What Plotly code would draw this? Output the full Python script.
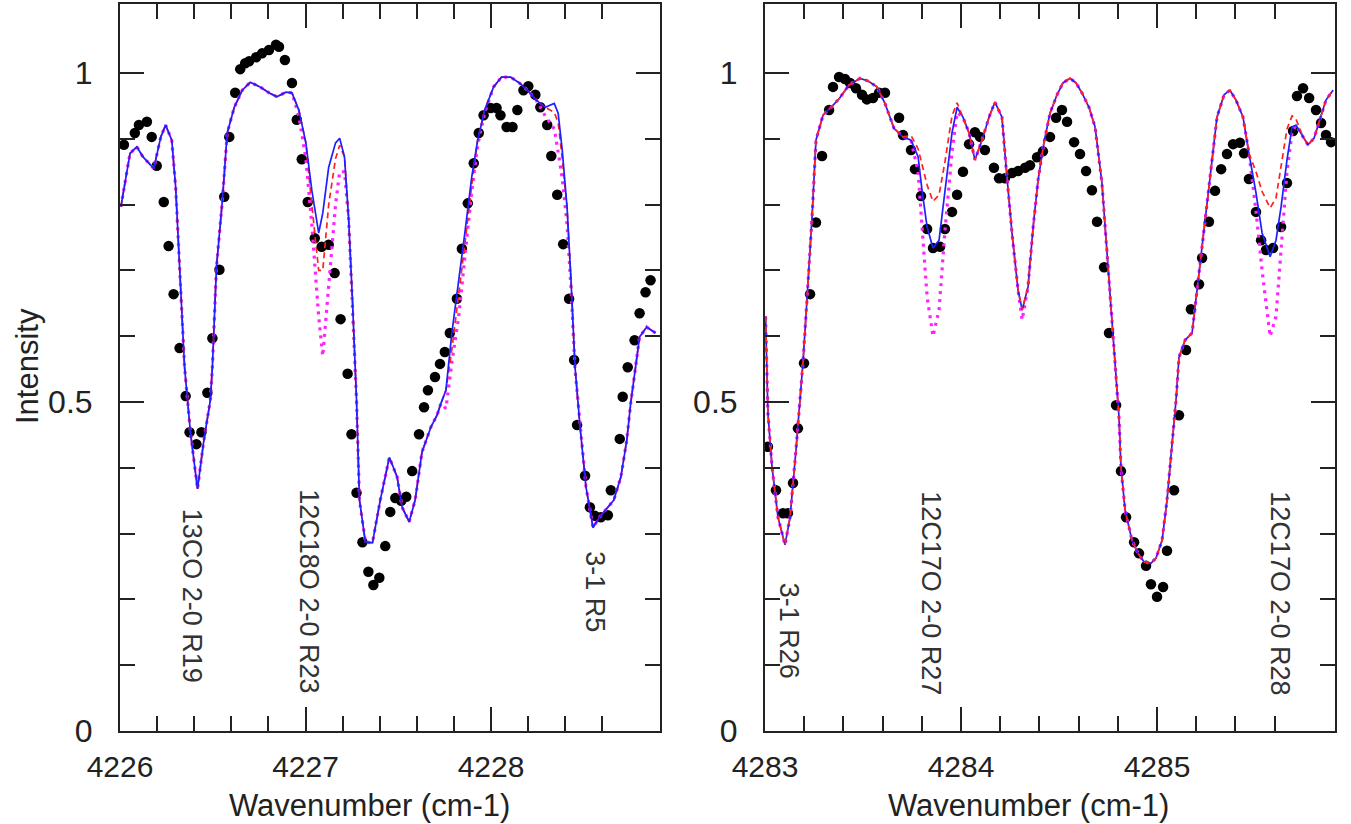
import plotly.graph_objects as go

# ---------------- Left panel data ----------------
L_dot_x = [4226.021, 4226.080, 4226.102, 4226.145, 4226.171, 4226.198, 4226.236, 4226.262, 4226.289,
           4226.321, 4226.354, 4226.375, 4226.412, 4226.439, 4226.471, 4226.498, 4226.536, 4226.562,
           4226.589, 4226.621, 4226.648, 4226.675, 4226.696, 4226.734, 4226.766, 4226.803, 4226.841,
           4226.857, 4226.889, 4226.927, 4226.953, 4226.980, 4227.012, 4227.050, 4227.087, 4227.125,
           4227.157, 4227.189, 4227.227, 4227.248, 4227.275, 4227.307, 4227.339, 4227.366, 4227.398,
           4227.430, 4227.457, 4227.484, 4227.516, 4227.543, 4227.575, 4227.612, 4227.639, 4227.660,
           4227.698, 4227.725, 4227.751, 4227.778, 4227.816, 4227.843, 4227.875, 4227.907, 4227.934,
           4227.960, 4227.998, 4228.030, 4228.051, 4228.084, 4228.116, 4228.142, 4228.175, 4228.201,
           4228.239, 4228.266, 4228.303, 4228.325, 4228.357, 4228.389, 4228.421, 4228.448, 4228.464,
           4228.507, 4228.533, 4228.560, 4228.592, 4228.630, 4228.646, 4228.694, 4228.710, 4228.737,
           4228.774, 4228.801, 4228.833, 4228.860]
L_dot_y = [0.891, 0.909, 0.921, 0.926, 0.903, 0.859, 0.804, 0.737, 0.664,
           0.582, 0.509, 0.454, 0.436, 0.454, 0.514, 0.597, 0.701, 0.812,
           0.903, 0.970, 1.006, 1.015, 1.018, 1.024, 1.030, 1.035, 1.043,
           1.040, 1.020, 0.985, 0.929, 0.869, 0.804, 0.749, 0.736, 0.739,
           0.696, 0.626, 0.543, 0.451, 0.362, 0.287, 0.242, 0.222, 0.233,
           0.281, 0.333, 0.354, 0.350, 0.356, 0.395, 0.451, 0.492, 0.518,
           0.538, 0.558, 0.576, 0.605, 0.657, 0.733, 0.802, 0.863, 0.909,
           0.936, 0.947, 0.947, 0.936, 0.918, 0.918, 0.944, 0.974, 0.980,
           0.967, 0.948, 0.921, 0.874, 0.815, 0.740, 0.657, 0.564, 0.465,
           0.388, 0.340, 0.327, 0.325, 0.328, 0.366, 0.444, 0.508, 0.553,
           0.594, 0.635, 0.667, 0.685]

L_model_x = [4226.005, 4226.054, 4226.091, 4226.123, 4226.182, 4226.220, 4226.246, 4226.279, 4226.300,
             4226.321, 4226.348, 4226.380, 4226.418, 4226.450, 4226.487, 4226.498, 4226.520, 4226.552,
             4226.578, 4226.616, 4226.659, 4226.702, 4226.755, 4226.803, 4226.846, 4226.894, 4226.927,
             4226.964, 4227.002, 4227.034, 4227.071, 4227.093, 4227.125, 4227.162, 4227.184, 4227.210,
             4227.232, 4227.253, 4227.275, 4227.291, 4227.323, 4227.361, 4227.403, 4227.452, 4227.494,
             4227.521, 4227.559, 4227.591, 4227.628, 4227.676, 4227.709, 4227.730, 4227.757, 4227.789,
             4227.826, 4227.859, 4227.896, 4227.928, 4227.966, 4228.014, 4228.057, 4228.105, 4228.153,
             4228.196, 4228.244, 4228.292, 4228.341, 4228.362, 4228.384, 4228.410, 4228.432, 4228.453,
             4228.480, 4228.512, 4228.550, 4228.582, 4228.630, 4228.662, 4228.700, 4228.732, 4228.753,
             4228.780, 4228.801, 4228.839, 4228.887]
L_blue = [0.797, 0.878, 0.888, 0.873, 0.855, 0.903, 0.921, 0.898, 0.827,
          0.705, 0.553, 0.453, 0.368, 0.438, 0.503, 0.553, 0.705, 0.807,
          0.909, 0.948, 0.974, 0.986, 0.979, 0.970, 0.964, 0.971, 0.970,
          0.944, 0.894, 0.822, 0.757, 0.787, 0.857, 0.894, 0.901, 0.873,
          0.781, 0.655, 0.503, 0.351, 0.287, 0.286, 0.351, 0.416, 0.386,
          0.340, 0.318, 0.351, 0.424, 0.462, 0.480, 0.498, 0.518, 0.605,
          0.681, 0.757, 0.842, 0.898, 0.944, 0.979, 0.994, 0.994, 0.985,
          0.974, 0.959, 0.948, 0.954, 0.939, 0.883, 0.796, 0.681, 0.553,
          0.462, 0.371, 0.309, 0.324, 0.340, 0.351, 0.386, 0.442, 0.498,
          0.559, 0.599, 0.614, 0.605]
L_red = [0.797, 0.878, 0.888, 0.873, 0.855, 0.903, 0.921, 0.898, 0.827,
         0.705, 0.553, 0.453, 0.368, 0.438, 0.503, 0.553, 0.705, 0.807,
         0.909, 0.948, 0.974, 0.986, 0.979, 0.970, 0.964, 0.971, 0.970,
         0.944, 0.894, 0.800, 0.700, 0.700, 0.800, 0.870, 0.890, 0.873,
         0.781, 0.655, 0.503, 0.351, 0.287, 0.286, 0.351, 0.416, 0.386,
         0.340, 0.318, 0.351, 0.424, 0.462, 0.480, 0.498, 0.518, 0.580,
         0.660, 0.740, 0.830, 0.898, 0.944, 0.979, 0.994, 0.994, 0.985,
         0.974, 0.959, 0.948, 0.940, 0.925, 0.870, 0.796, 0.681, 0.553,
         0.462, 0.371, 0.309, 0.324, 0.340, 0.351, 0.386, 0.442, 0.498,
         0.559, 0.599, 0.614, 0.605]
L_mag = [0.797, 0.878, 0.888, 0.873, 0.855, 0.903, 0.921, 0.898, 0.827,
         0.705, 0.553, 0.453, 0.368, 0.438, 0.503, 0.553, 0.705, 0.807,
         0.909, 0.948, 0.974, 0.986, 0.979, 0.970, 0.964, 0.971, 0.970,
         0.935, 0.870, 0.770, 0.630, 0.570, 0.680, 0.800, 0.850, 0.850,
         0.781, 0.655, 0.503, 0.351, 0.287, 0.286, 0.351, 0.416, 0.386,
         0.340, 0.318, 0.351, 0.424, 0.462, 0.480, 0.498, 0.490, 0.560,
         0.630, 0.720, 0.820, 0.890, 0.940, 0.979, 0.994, 0.994, 0.985,
         0.974, 0.959, 0.935, 0.915, 0.880, 0.840, 0.770, 0.670, 0.550,
         0.462, 0.371, 0.309, 0.324, 0.340, 0.351, 0.386, 0.442, 0.498,
         0.559, 0.599, 0.614, 0.605]

L_labels = ["13CO 2-0 R19", "12C18O 2-0 R23", "3-1 R5"]
L_label_x = [4226.39, 4227.02, 4228.56]
L_label_y = [0.205, 0.212, 0.211]

# ---------------- Right panel data ----------------
R_dot_x = [4283.015, 4283.056, 4283.092, 4283.117, 4283.143, 4283.168, 4283.199, 4283.230, 4283.260,
           4283.291, 4283.327, 4283.347, 4283.378, 4283.408, 4283.434, 4283.464, 4283.495, 4283.520,
           4283.551, 4283.582, 4283.612, 4283.684, 4283.704, 4283.745, 4283.765, 4283.796, 4283.827,
           4283.857, 4283.893, 4283.918, 4283.954, 4283.980, 4284.010, 4284.041, 4284.071, 4284.097,
           4284.122, 4284.168, 4284.194, 4284.224, 4284.260, 4284.291, 4284.327, 4284.352, 4284.388,
           4284.418, 4284.454, 4284.485, 4284.515, 4284.541, 4284.577, 4284.607, 4284.638, 4284.668,
           4284.694, 4284.730, 4284.755, 4284.791, 4284.816, 4284.842, 4284.883, 4284.908, 4284.944,
           4284.969, 4285.000, 4285.031, 4285.051, 4285.087, 4285.112, 4285.148, 4285.173, 4285.214,
           4285.230, 4285.265, 4285.296, 4285.327, 4285.357, 4285.388, 4285.423, 4285.444, 4285.469,
           4285.505, 4285.531, 4285.556, 4285.592, 4285.633, 4285.663, 4285.694, 4285.714, 4285.745,
           4285.776, 4285.811, 4285.837, 4285.862, 4285.888]
R_dot_y = [0.432, 0.366, 0.331, 0.331, 0.377, 0.460, 0.559, 0.664, 0.773,
           0.874, 0.944, 0.979, 0.994, 0.991, 0.985, 0.977, 0.967, 0.960,
           0.962, 0.970, 0.970, 0.932, 0.906, 0.883, 0.854, 0.813, 0.763,
           0.734, 0.736, 0.763, 0.789, 0.815, 0.850, 0.892, 0.910, 0.903,
           0.883, 0.856, 0.840, 0.840, 0.848, 0.851, 0.856, 0.860, 0.872,
           0.881, 0.903, 0.932, 0.944, 0.926, 0.895, 0.877, 0.851, 0.822,
           0.774, 0.705, 0.605, 0.495, 0.395, 0.325, 0.287, 0.270, 0.251,
           0.223, 0.204, 0.219, 0.274, 0.366, 0.480, 0.579, 0.641, 0.679,
           0.719, 0.774, 0.821, 0.854, 0.877, 0.892, 0.894, 0.878, 0.839,
           0.789, 0.746, 0.731, 0.734, 0.766, 0.833, 0.912, 0.965, 0.977,
           0.962, 0.944, 0.924, 0.906, 0.895]

R_model_x = [4283.003, 4283.015, 4283.036, 4283.066, 4283.102, 4283.128, 4283.158, 4283.179, 4283.194,
             4283.214, 4283.240, 4283.260, 4283.296, 4283.337, 4283.378, 4283.429, 4283.485, 4283.526,
             4283.571, 4283.612, 4283.658, 4283.704, 4283.745, 4283.781, 4283.801, 4283.827, 4283.857,
             4283.888, 4283.918, 4283.954, 4283.980, 4284.010, 4284.041, 4284.071, 4284.107, 4284.143,
             4284.173, 4284.209, 4284.230, 4284.260, 4284.291, 4284.312, 4284.342, 4284.368, 4284.393,
             4284.423, 4284.454, 4284.490, 4284.520, 4284.556, 4284.587, 4284.617, 4284.653, 4284.684,
             4284.719, 4284.750, 4284.775, 4284.806, 4284.816, 4284.837, 4284.872, 4284.903, 4284.934,
             4284.969, 4284.995, 4285.026, 4285.051, 4285.077, 4285.097, 4285.112, 4285.143, 4285.179,
             4285.209, 4285.240, 4285.276, 4285.306, 4285.342, 4285.372, 4285.403, 4285.439, 4285.469,
             4285.505, 4285.536, 4285.577, 4285.607, 4285.633, 4285.663, 4285.689, 4285.709, 4285.745,
             4285.770, 4285.801, 4285.832, 4285.862, 4285.898]
R_blue = [0.630, 0.483, 0.401, 0.325, 0.283, 0.325, 0.427, 0.503, 0.561,
          0.655, 0.781, 0.898, 0.936, 0.948, 0.961, 0.982, 0.992, 0.988,
          0.979, 0.954, 0.916, 0.903, 0.898, 0.873, 0.822, 0.766, 0.734,
          0.746, 0.822, 0.909, 0.948, 0.933, 0.909, 0.868, 0.898, 0.933,
          0.956, 0.933, 0.857, 0.757, 0.670, 0.640, 0.675, 0.766, 0.837,
          0.894, 0.939, 0.967, 0.985, 0.992, 0.985, 0.970, 0.948, 0.918,
          0.833, 0.705, 0.605, 0.477, 0.401, 0.336, 0.290, 0.270, 0.257,
          0.255, 0.263, 0.290, 0.351, 0.438, 0.503, 0.568, 0.594, 0.605,
          0.681, 0.757, 0.848, 0.933, 0.967, 0.974, 0.959, 0.933, 0.878,
          0.818, 0.757, 0.721, 0.746, 0.797, 0.868, 0.918, 0.921, 0.903,
          0.891, 0.901, 0.929, 0.959, 0.974]
R_red = [0.630, 0.483, 0.401, 0.325, 0.283, 0.325, 0.427, 0.503, 0.561,
         0.655, 0.781, 0.898, 0.936, 0.948, 0.961, 0.982, 0.992, 0.988,
         0.979, 0.954, 0.916, 0.903, 0.905, 0.885, 0.860, 0.830, 0.805,
         0.815, 0.865, 0.935, 0.955, 0.933, 0.909, 0.868, 0.898, 0.933,
         0.956, 0.933, 0.857, 0.757, 0.670, 0.640, 0.675, 0.766, 0.837,
         0.894, 0.939, 0.967, 0.985, 0.992, 0.985, 0.970, 0.948, 0.918,
         0.833, 0.705, 0.605, 0.477, 0.401, 0.336, 0.290, 0.270, 0.257,
         0.255, 0.263, 0.290, 0.351, 0.438, 0.503, 0.568, 0.594, 0.605,
         0.681, 0.757, 0.848, 0.933, 0.967, 0.974, 0.959, 0.933, 0.878,
         0.850, 0.820, 0.795, 0.810, 0.860, 0.915, 0.935, 0.930, 0.903,
         0.891, 0.901, 0.929, 0.959, 0.974]
R_mag = [0.630, 0.483, 0.401, 0.325, 0.283, 0.325, 0.427, 0.503, 0.561,
         0.655, 0.781, 0.898, 0.936, 0.948, 0.961, 0.982, 0.992, 0.988,
         0.979, 0.954, 0.916, 0.903, 0.898, 0.850, 0.760, 0.660, 0.600,
         0.640, 0.760, 0.880, 0.940, 0.933, 0.909, 0.868, 0.898, 0.933,
         0.956, 0.933, 0.857, 0.757, 0.670, 0.625, 0.675, 0.766, 0.837,
         0.894, 0.939, 0.967, 0.985, 0.992, 0.985, 0.970, 0.948, 0.918,
         0.833, 0.705, 0.605, 0.477, 0.401, 0.336, 0.290, 0.270, 0.257,
         0.255, 0.263, 0.290, 0.351, 0.438, 0.503, 0.568, 0.594, 0.605,
         0.681, 0.757, 0.848, 0.933, 0.967, 0.974, 0.959, 0.933, 0.878,
         0.790, 0.700, 0.600, 0.630, 0.740, 0.850, 0.910, 0.921, 0.903,
         0.891, 0.901, 0.929, 0.959, 0.974]

R_labels = ["3-1 R26", "12C17O 2-0 R27", "12C17O 2-0 R28"]
R_label_x = [4283.12, 4283.85, 4285.63]
R_label_y = [0.153, 0.210, 0.210]

# Axis ticks
L_major = [4226, 4227, 4228]
L_minor = [4226.2, 4226.4, 4226.6, 4226.8, 4227.2, 4227.4, 4227.6, 4227.8, 4228.2, 4228.4, 4228.6]
R_major = [4283, 4284, 4285]
R_minor = [4283.2, 4283.4, 4283.6, 4283.8, 4284.2, 4284.4, 4284.6, 4284.8, 4285.2, 4285.4, 4285.6]
Y_major = [0, 0.5, 1]
Y_major_text = ["0", "0.5", "1"]
Y_minor = [0.1, 0.2, 0.3, 0.4, 0.6, 0.7, 0.8, 0.9]

W, H = 1351, 824
FONT = "Liberation Sans, Arial, Helvetica, sans-serif"
TXT = "#222222"

BLUE = "#1f1fff"
RED = "#ff2020"
MAG = "#ff22ff"

fig = go.Figure()

def add_panel(xa, ya, dx, dy, mx, blue, red, mag, red_on_top):
    fig.add_trace(go.Scatter(x=dx, y=dy, mode="markers", xaxis=xa, yaxis=ya,
                             marker=dict(color="black", size=10.5, line=dict(width=0)),
                             showlegend=False, hoverinfo="skip"))
    fig.add_trace(go.Scatter(x=mx, y=mag, mode="lines", xaxis=xa, yaxis=ya,
                             line=dict(color=MAG, width=3.2, dash="3px,5px"),
                             showlegend=False, hoverinfo="skip"))
    order = [("b", blue), ("r", red)] if red_on_top else [("r", red), ("b", blue)]
    for k, yy in order:
        if k == "b":
            fig.add_trace(go.Scatter(x=mx, y=yy, mode="lines", xaxis=xa, yaxis=ya,
                                     line=dict(color=BLUE, width=1.7),
                                     showlegend=False, hoverinfo="skip"))
        else:
            fig.add_trace(go.Scatter(x=mx, y=yy, mode="lines", xaxis=xa, yaxis=ya,
                                     line=dict(color=RED, width=1.7, dash="6px,4px"),
                                     showlegend=False, hoverinfo="skip"))

add_panel("x", "y", L_dot_x, L_dot_y, L_model_x, L_blue, L_red, L_mag, red_on_top=False)
add_panel("x2", "y2", R_dot_x, R_dot_y, R_model_x, R_blue, R_red, R_mag, red_on_top=True)

def px_x(p):
    return p / W

def px_y(p):
    return 1 - p / H

common_axis = dict(showline=True, linecolor="#222222", linewidth=2, mirror="ticks",
                   ticks="inside", ticklen=24, tickwidth=2, tickcolor="#222222",
                   showgrid=False, zeroline=False, automargin=False)

XFONT = dict(family=FONT, size=30, color=TXT)
YFONT = dict(family=FONT, size=32, color=TXT)

minor_x = dict(ticks="inside", ticklen=15, tickwidth=2, tickcolor="#222222", tickmode="array")

yd = [px_y(731), px_y(4)]
fig.update_layout(
    width=W, height=H,
    margin=dict(l=0, r=0, t=0, b=0, autoexpand=False),
    paper_bgcolor="white", plot_bgcolor="white",
    xaxis=dict(domain=[px_x(120), px_x(660)], range=[4226, 4228.911], anchor="y",
               tickmode="array", tickvals=L_major, ticktext=[str(v) for v in L_major],
               ticklabelstandoff=8, tickfont=XFONT,
               minor=dict(tickvals=L_minor, **minor_x),
               **common_axis),
    yaxis=dict(domain=yd, range=[0, 1.105], anchor="x",
               tickmode="array", tickvals=Y_major, ticktext=Y_major_text,
               ticklabelstandoff=19, tickfont=YFONT,
               minor=dict(tickvals=Y_minor, **minor_x),
               **common_axis),
    xaxis2=dict(domain=[px_x(765), px_x(1335)], range=[4283, 4285.908], anchor="y2",
                tickmode="array", tickvals=R_major, ticktext=[str(v) for v in R_major],
                ticklabelstandoff=8, tickfont=XFONT,
                minor=dict(tickvals=R_minor, **minor_x),
                **common_axis),
    yaxis2=dict(domain=yd, range=[0, 1.105], anchor="x2",
                tickmode="array", tickvals=Y_major, ticktext=Y_major_text,
                ticklabelstandoff=19, tickfont=YFONT,
                minor=dict(tickvals=Y_minor, **minor_x),
                **common_axis),
)

annots = []
for t, x, y in zip(L_labels, L_label_x, L_label_y):
    annots.append(dict(text=t, x=x, y=y, xref="x", yref="y", showarrow=False, textangle=90,
                       xanchor="center", yanchor="middle",
                       font=dict(family=FONT, size=27, color="#333333")))
for t, x, y in zip(R_labels, R_label_x, R_label_y):
    annots.append(dict(text=t, x=x, y=y, xref="x2", yref="y2", showarrow=False, textangle=90,
                       xanchor="center", yanchor="middle",
                       font=dict(family=FONT, size=27, color="#333333")))
# axis titles
annots.append(dict(text="Wavenumber (cm-1)", x=px_x(369), y=px_y(805), xref="paper", yref="paper",
                   showarrow=False, xanchor="center", yanchor="middle",
                   font=dict(family=FONT, size=31, color=TXT)))
annots.append(dict(text="Wavenumber (cm-1)", x=px_x(1028), y=px_y(805), xref="paper", yref="paper",
                   showarrow=False, xanchor="center", yanchor="middle",
                   font=dict(family=FONT, size=31, color=TXT)))
annots.append(dict(text="Intensity", x=px_x(27), y=px_y(366), xref="paper", yref="paper",
                   showarrow=False, textangle=-90, xanchor="center", yanchor="middle",
                   font=dict(family=FONT, size=31, color=TXT)))
fig.update_layout(annotations=annots)

fig.write_html("out.html")
